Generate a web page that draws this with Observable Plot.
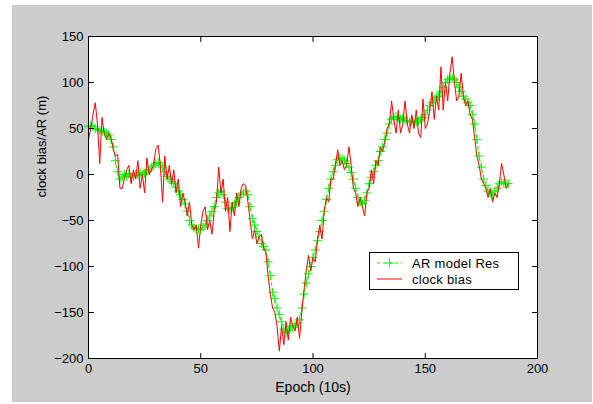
<!DOCTYPE html>
<html>
<head>
<meta charset="utf-8">
<script src="https://cdn.jsdelivr.net/npm/d3@7"></script>
<script src="https://cdn.jsdelivr.net/npm/@observablehq/plot@0.6"></script>
<style>
  html, body { margin: 0; padding: 0; background: #ffffff; }
  #fig { position: relative; width: 593px; height: 404px; overflow: hidden; }
  #bg { position: absolute; left: 12px; top: 5px; width: 580px; height: 397px; background: #cccccc; }
  #chart { position: absolute; left: 0; top: 0; }
  #legend { position: absolute; left: 369px; top: 252px; width: 148px; height: 36px; background: #fff; border: 1px solid #000;
            font-family: "Liberation Sans", Arial, sans-serif; font-size: 13px; color: #000; }
  .row { position: absolute; left: 0; height: 16px; display: flex; align-items: center; }
  .row svg { margin-left: 7px; }
  .row span { margin-left: 10px; letter-spacing: 0.3px; }
</style>
</head>
<body>
<div id="fig">
  <div id="bg"></div>
  <div id="chart"></div>
  <div id="legend">
    <div class="row" style="top:2px"><svg width="25" height="12"><line x1="0" y1="6" x2="25" y2="6" stroke="#00ff00" stroke-dasharray="3,3"/><path d="M8,6H17M12.5,1.5V10.5" stroke="#00ff00" fill="none"/></svg><span>AR model Res</span></div>
    <div class="row" style="top:18px"><svg width="25" height="12"><line x1="0" y1="6" x2="25" y2="6" stroke="#ff0000"/></svg><span>clock bias</span></div>
  </div>
</div>
<script>
const xTicks = [0, 50, 100, 150, 200];
const yTicks = [-200, -150, -100, -50, 0, 50, 100, 150];
const xLabel = "Epoch (10s)";
const yLabel = "clock bias/AR (m)";

const arRes = [52,53,52,50,49,48,47,46,45,43,38,30,15,3,-5,-3,0,-2,1,-3,
  -2,0,-1,2,0,1,3,5,8,10,12,13,10,8,3,-2,-5,-8,-10,-14,
  -18,-22,-27,-32,-40,-50,-55,-58,-60,-59,-60,-57,-55,-50,-45,-40,-35,-25,-20,-18,
  -22,-30,-37,-38,-36,-32,-30,-25,-22,-20,-18,-22,-35,-48,-55,-62,-68,-75,-78,-82,
  -95,-110,-128,-135,-145,-152,-160,-168,-172,-170,-165,-166,-164,-162,-158,-145,-130,-118,-108,-100,
  -90,-82,-72,-62,-50,-40,-27,-15,-5,3,10,16,18,17,15,12,8,2,-5,-15,
  -25,-30,-32,-28,-20,-10,-3,3,10,15,25,30,38,45,55,60,62,63,62,60,
  61,59,58,57,58,56,57,58,60,62,65,70,75,78,82,84,85,90,95,100,
  103,104,105,103,100,95,90,85,82,78,75,65,55,38,20,8,-5,-12,-18,-20,
  -22,-18,-15,-10,-8,-10,-10,-10];

const clockBias = [38,50,65,78,55,12,62,45,38,45,40,28,20,22,-15,-15,-5,5,10,-10,
  5,-5,15,-15,0,-20,18,0,5,10,28,32,10,-30,20,-5,10,-10,5,-20,
  -5,-35,-20,-30,-45,-30,-55,-60,-55,-80,-55,-40,-35,-60,-50,-65,-40,-30,8,-20,
  -5,-40,-25,-62,-30,-45,-20,-35,-15,-10,-12,-30,-50,-70,-60,-75,-68,-65,-80,-85,
  -110,-130,-145,-150,-165,-192,-165,-185,-160,-180,-155,-165,-170,-155,-178,-150,-125,-105,-88,-105,
  -90,-95,-70,-55,-70,-40,-25,-30,-5,-5,10,27,10,15,5,10,30,10,-15,-20,
  -35,-25,-35,-45,-20,-15,5,-10,15,10,30,25,35,50,55,80,60,45,70,45,
  55,80,55,45,65,50,70,45,40,82,50,55,70,90,60,85,70,117,70,100,
  80,110,128,100,80,85,110,85,75,80,65,60,40,20,10,-5,-10,-15,-25,-15,
  -30,-20,-25,-10,12,0,-15,-10];

const epochs = d3.range(arRes.length);
const arData = epochs.map(i => ({epoch: i, value: arRes[i]}));
const cbData = epochs.map(i => ({epoch: i, value: clockBias[i]}));

const thinPlus = {
  draw(ctx, size) {
    const r = Math.sqrt(size / Math.PI);
    ctx.moveTo(-r, 0); ctx.lineTo(r, 0);
    ctx.moveTo(0, -r); ctx.lineTo(0, r);
  }
};
const tickShape = {
  draw(ctx, l) { ctx.moveTo(0, 0); ctx.lineTo(0, -l); }
};
const tickOpts = {length: 5, anchor: "start", shape: tickShape, stroke: "#000", strokeWidth: 1};

const chart = Plot.plot({
  width: 593,
  height: 404,
  marginLeft: 88,
  marginRight: 56,
  marginTop: 36,
  marginBottom: 46,
  style: {fontFamily: "'Liberation Sans', Arial, sans-serif", fontSize: "13px", background: "transparent", color: "#000"},
  x: {domain: [0, 200]},
  y: {domain: [-200, 150]},
  marks: [
    Plot.frame({fill: "#ffffff", stroke: "none"}),
    Plot.line(arData, {x: "epoch", y: "value", stroke: "#00ff00", strokeWidth: 1, strokeDasharray: "3,3"}),
    Plot.dot(arData, {x: "epoch", y: "value", symbol: thinPlus, r: 4.5, stroke: "#00ff00", fill: "none", strokeWidth: 1}),
    Plot.line(cbData, {x: "epoch", y: "value", stroke: "#ff0000", strokeWidth: 1}),
    Plot.frame({stroke: "#000", strokeWidth: 1}),
    Plot.vector(xTicks, {x: d => d, frameAnchor: "bottom", rotate: 0, ...tickOpts}),
    Plot.vector(xTicks, {x: d => d, frameAnchor: "top", rotate: 180, ...tickOpts}),
    Plot.vector(yTicks, {y: d => d, frameAnchor: "left", rotate: 90, ...tickOpts}),
    Plot.vector(yTicks, {y: d => d, frameAnchor: "right", rotate: -90, ...tickOpts}),
    Plot.axisX(xTicks, {anchor: "bottom", tickSize: 0, tickPadding: 5, label: null}),
    Plot.axisY(yTicks, {anchor: "left", tickSize: 0, tickPadding: 5, label: null}),
    Plot.text([xLabel], {frameAnchor: "bottom", dy: 29, text: d => d, fontSize: 14, lineAnchor: "middle"}),
    Plot.text([yLabel], {frameAnchor: "left", dx: -47, rotate: -90, text: d => d, fontSize: 13, lineAnchor: "middle"})
  ]
});
document.getElementById("chart").appendChild(chart);
</script>
</body>
</html>
